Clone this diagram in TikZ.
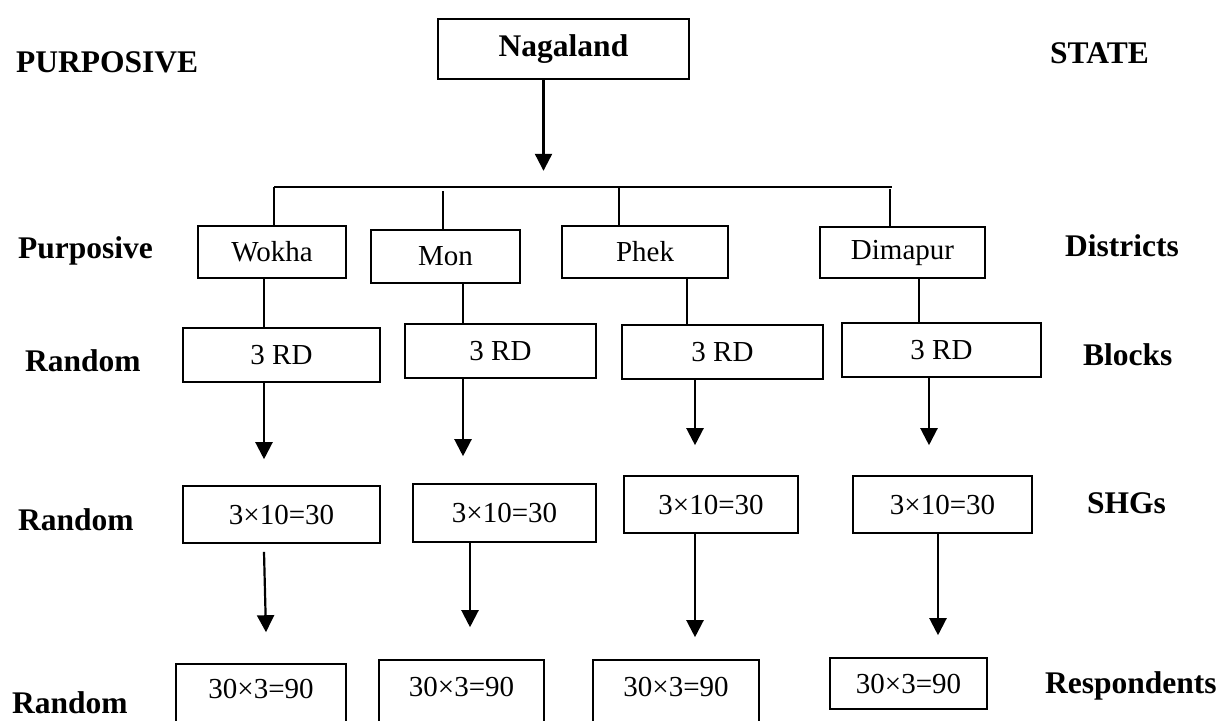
\documentclass[tikz,border=0pt]{standalone}
\usepackage{fontspec}
\setmainfont{Liberation Serif}
\usetikzlibrary{arrows.meta}

\begin{document}
\begin{tikzpicture}[x=1pt, y=-1pt,
		box/.style={draw, line width=1.6pt, inner sep=0pt, font=\fontsize{29}{34}\selectfont},
		res/.style={box, text depth=13pt},
		lab/.style={anchor=base west, inner sep=0pt, font=\fontsize{31.5}{36}\selectfont\bfseries},
		ln/.style={line width=2pt},
		arr/.style={line width=2.2pt, -{Triangle[width=17pt,length=17pt]}}]
			\useasboundingbox (0,0) rectangle (1223,720);
			\clip (0,0) rectangle (1223,720);
			% state
			\node[box, font=\fontsize{31.5}{36}\selectfont\bfseries, minimum width=251pt, minimum height=60pt] (nagaland) at (563.5,49) {Nagaland};
			% districts
			\node[box, minimum width=148pt, minimum height=52pt] (wokha) at (272,252) {Wokha};
			\node[box, minimum width=149pt, minimum height=53pt] (mon) at (445.5,256.5) {Mon};
			\node[box, minimum width=166pt, minimum height=52pt] (phek) at (645,252) {Phek};
			\node[box, minimum width=165pt, minimum height=51pt] (dimapur) at (902.5,252.5) {Dimapur};
			% blocks
			\node[box, minimum width=197pt, minimum height=54pt] (rd1) at (281.5,355) {3 RD};
			\node[box, minimum width=191pt, minimum height=54pt] (rd2) at (500.5,351) {3 RD};
			\node[box, minimum width=201pt, minimum height=54pt] (rd3) at (722.5,352) {3 RD};
			\node[box, minimum width=199pt, minimum height=54pt] (rd4) at (941.5,350) {3 RD};
			% shgs
			\node[box, minimum width=197pt, minimum height=57pt] (shg1) at (281.5,514.5) {3×10=30};
			\node[box, minimum width=183pt, minimum height=58pt] (shg2) at (504.5,513) {3×10=30};
			\node[box, minimum width=174pt, minimum height=57pt] (shg3) at (711,504.5) {3×10=30};
			\node[box, minimum width=179pt, minimum height=57pt] (shg4) at (942.5,504.5) {3×10=30};
			% respondents
			\node[res, minimum width=170pt, minimum height=62pt] (res1) at (261,695) {30×3=90};
			\node[res, minimum width=165pt, minimum height=66pt] (res2) at (461.5,693) {30×3=90};
			\node[res, minimum width=166pt, minimum height=66pt] (res3) at (676,693) {30×3=90};
			\node[box, minimum width=157pt, minimum height=51pt] (res4) at (908.5,683.5) {30×3=90};

			% side labels
			\node[lab] (l0) at (16,72) {PURPOSIVE};
			\node[lab] (l1) at (18,258) {Purposive};
			\node[lab] (l2) at (25,371) {Random};
			\node[lab] (l3) at (18,530) {Random};
			\node[lab] (l4) at (12,713) {Random};
			\node[lab] (r0) at (1050,63) {STATE};
			\node[lab] (r1) at (1065,256) {Districts};
			\node[lab] (r2) at (1083,365) {Blocks};
			\node[lab] (r3) at (1087,513) {SHGs};
			\node[lab] (r4) at (1045,693) {Respondents};

			% state to districts
			\coordinate (barl) at (274,187);
			\coordinate (barr) at (892,187);
			\draw[arr] ([xshift=-20pt]nagaland.south) -- +(0,91);
			\draw[ln] (barl) -- (barr);
			\draw[ln] ([xshift=2pt]wokha.north) -- ([xshift=2pt]wokha.north |- barl);
			\draw[ln] ([xshift=-2.5pt]mon.north) -- ++(0,-38);
			\draw[ln] ([xshift=-26pt]phek.north) -- ([xshift=-26pt]phek.north |- barl);
			\draw[ln] ([xshift=-12.5pt]dimapur.north) -- ++(0,-37);
			% districts to blocks
			\draw[ln] ([xshift=-8pt]wokha.south) -- ([xshift=-8pt]wokha.south |- rd1.north);
			\draw[ln] ([xshift=17.5pt]mon.south) -- ([xshift=17.5pt]mon.south |- rd2.north);
			\draw[ln] ([xshift=42pt]phek.south) -- ([xshift=42pt]phek.south |- rd3.north);
			\draw[ln] ([xshift=16.5pt]dimapur.south) -- ([xshift=16.5pt]dimapur.south |- rd4.north);
			% blocks to shgs
			\draw[arr] ([xshift=-17.5pt]rd1.south) -- ([xshift=-17.5pt,yshift=26pt]rd1.south |- shg1.north);
			\draw[arr] ([xshift=-37.5pt]rd2.south) -- ([xshift=-37.5pt,yshift=27pt]rd2.south |- shg2.north);
			\draw[arr] ([xshift=-27.5pt]rd3.south) -- ([xshift=-27.5pt,yshift=30pt]rd3.south |- shg3.north);
			\draw[arr] ([xshift=-12.5pt]rd4.south) -- ([xshift=-12.5pt,yshift=30pt]rd4.south |- shg4.north);
			% shgs to respondents
			\draw[arr] ([xshift=-17.5pt,yshift=-8pt]shg1.south) -- ([xshift=-15.5pt,yshift=31pt]shg1.south |- res1.north);
			\draw[arr] ([xshift=-34.5pt]shg2.south) -- ([xshift=-34.5pt,yshift=32pt]shg2.south |- res2.north);
			\draw[arr] ([xshift=-16pt]shg3.south) -- ([xshift=-16pt,yshift=22pt]shg3.south |- res3.north);
			\draw[arr] ([xshift=-4.5pt]shg4.south) -- ([xshift=-4.5pt,yshift=22pt]shg4.south |- res4.north);
		\end{tikzpicture}
\end{document}
